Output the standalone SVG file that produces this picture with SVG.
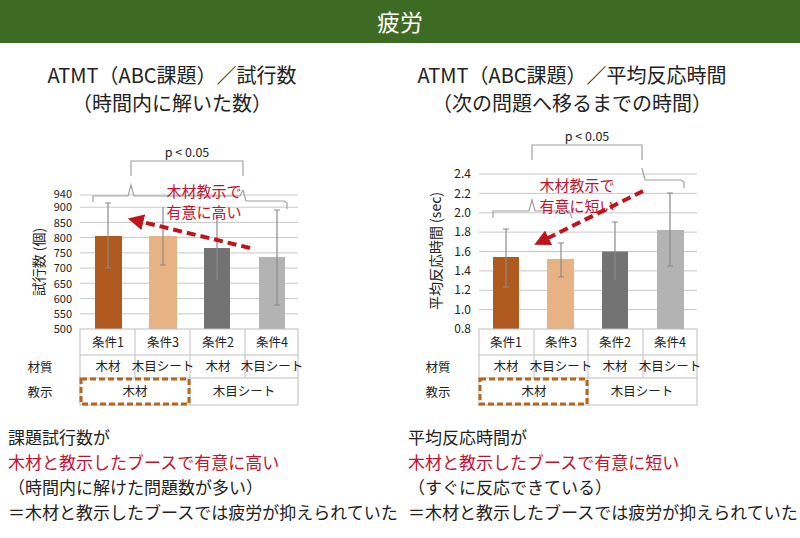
<svg xmlns="http://www.w3.org/2000/svg" width="800" height="538" viewBox="0 0 800 538">
<style>
text{font-family:"Noto Sans CJK JP","Noto Sans",sans-serif;fill:#222}
.t{font-size:20px;text-anchor:middle}
.tk{font-size:11px;text-anchor:end}
.c{font-size:12.5px;text-anchor:middle}
.b{font-size:17px}
.r{fill:#c8102e}
.g{stroke:#c8c8c8;stroke-width:1}
.tb{stroke:#bdbdbd;fill:none;stroke-width:1}
.e{stroke:#8a8a8a;stroke-width:1.2;fill:none}
.br{stroke:#a0a0a0;stroke-width:1.2;fill:none}
.dash{stroke:#b5651d;stroke-width:3;stroke-dasharray:6 3;fill:none}
.ar{stroke:#c0141c;stroke-width:4;stroke-dasharray:9 5;fill:none}
</style>
<defs><marker id="ah" viewBox="0 0 10 10" refX="6" refY="5" markerWidth="4" markerHeight="4" orient="auto"><path d="M0,0L10,5L0,10z" fill="#c0141c"/></marker></defs>
<rect x="0" y="0" width="800" height="43" fill="#3e6b23"/>
<text x="400" y="31" style="font-size:23px;fill:#fff;text-anchor:middle">疲労</text>
<text class="t" x="172" y="83">ATMT（ABC課題）／試行数</text>
<text class="t" x="172" y="111">（時間内に解いた数）</text>
<text class="t" x="572" y="83">ATMT（ABC課題）／平均反応時間</text>
<text class="t" x="572" y="111">（次の問題へ移るまでの時間）</text>

<g id="chart-left">
<g class="g"><line x1="80" y1="195" x2="298" y2="195"/><line x1="80" y1="207.2" x2="298" y2="207.2"/><line x1="80" y1="222.4" x2="298" y2="222.4"/><line x1="80" y1="237.6" x2="298" y2="237.6"/><line x1="80" y1="252.9" x2="298" y2="252.9"/><line x1="80" y1="268.1" x2="298" y2="268.1"/><line x1="80" y1="283.3" x2="298" y2="283.3"/><line x1="80" y1="298.6" x2="298" y2="298.6"/><line x1="80" y1="313.8" x2="298" y2="313.8"/></g>
<g class="tk"><text x="72" y="197.5">940</text><text x="72" y="211">900</text><text x="72" y="226.5">850</text><text x="72" y="241.5">800</text><text x="72" y="257">750</text><text x="72" y="272">700</text><text x="72" y="287.5">650</text><text x="72" y="302.5">600</text><text x="72" y="318">550</text><text x="72" y="333">500</text></g>
<text transform="translate(44,262) rotate(-90)" style="font-size:14px;text-anchor:middle">試行数 (個)</text>
<rect x="95" y="236" width="27" height="93" fill="#b05a20"/>
<rect x="149" y="236" width="28" height="93" fill="#e8b384"/>
<rect x="204" y="248" width="26" height="81" fill="#737373"/>
<rect x="259" y="257" width="26" height="72" fill="#b3b3b3"/>
<path class="e" d="M108,203V268M105,203h6M105,268h6M163,207V265M160,265h6M217,215V280M277,210V305M274,210h6M274,305h6"/>
<g class="tb"><rect x="80" y="329" width="218" height="76"/><line x1="80" y1="355" x2="298" y2="355"/><line x1="80" y1="378" x2="298" y2="378"/><line x1="135" y1="329" x2="135" y2="378"/><line x1="190" y1="329" x2="190" y2="405"/><line x1="245" y1="329" x2="245" y2="378"/></g>
<g class="c"><text x="108" y="347">条件1</text><text x="163" y="347">条件3</text><text x="218" y="347">条件2</text><text x="272" y="347">条件4</text><text x="108" y="371">木材</text><text x="163" y="371">木目シート</text><text x="218" y="371">木材</text><text x="272" y="371">木目シート</text><text x="135" y="396">木材</text><text x="244" y="396">木目シート</text></g>
<text x="40" y="372" style="font-size:12.5px;text-anchor:middle">材質</text>
<text x="40" y="397" style="font-size:12.5px;text-anchor:middle">教示</text>
<rect class="dash" x="81" y="379" width="108" height="25"/>
<path class="br" d="M131,176V161H243V176"/>
<text x="187" y="157" class="c">p &lt; 0.05</text>
<path class="br" d="M93,202V196H128L131,185L134,196H240L243,190"/>
<path class="br" d="M243,190L246,201H284L287,203V209"/>
<text class="r" x="204" y="197" style="font-size:15px;text-anchor:middle">木材教示で</text>
<text class="r" x="204" y="218" style="font-size:15px;text-anchor:middle">有意に高い</text>
<line class="ar" x1="250" y1="248" x2="134" y2="220" marker-end="url(#ah)"/>
</g>

<g id="chart-right">
<g class="g"><line x1="479" y1="174" x2="697" y2="174"/><line x1="479" y1="193.4" x2="697" y2="193.4"/><line x1="479" y1="212.8" x2="697" y2="212.8"/><line x1="479" y1="232.1" x2="697" y2="232.1"/><line x1="479" y1="251.5" x2="697" y2="251.5"/><line x1="479" y1="270.9" x2="697" y2="270.9"/><line x1="479" y1="290.3" x2="697" y2="290.3"/><line x1="479" y1="309.6" x2="697" y2="309.6"/></g>
<g class="tk" style="font-size:12px"><text x="471" y="178">2.4</text><text x="471" y="198">2.2</text><text x="471" y="217">2.0</text><text x="471" y="236">1.8</text><text x="471" y="256">1.6</text><text x="471" y="275">1.4</text><text x="471" y="294">1.2</text><text x="471" y="314">1.0</text><text x="471" y="333">0.8</text></g>
<text transform="translate(441,251) rotate(-90)" style="font-size:14px;text-anchor:middle">平均反応時間 (sec)</text>
<rect x="493" y="257" width="26" height="72" fill="#b05a20"/>
<rect x="547" y="259" width="27" height="70" fill="#e8b384"/>
<rect x="602" y="251.5" width="26" height="77.5" fill="#737373"/>
<rect x="657" y="230" width="27" height="99" fill="#b3b3b3"/>
<path class="e" d="M506,229V287M503,229h6M503,287h6M561,243V277M558,243h6M558,277h6M615,222V280M612,222h6M670,193V266M667,193h6M667,266h6"/>
<g class="tb"><rect x="479" y="329" width="218" height="76"/><line x1="479" y1="355" x2="697" y2="355"/><line x1="479" y1="378" x2="697" y2="378"/><line x1="534" y1="329" x2="534" y2="378"/><line x1="588" y1="329" x2="588" y2="405"/><line x1="643" y1="329" x2="643" y2="378"/></g>
<g class="c"><text x="506" y="347">条件1</text><text x="561" y="347">条件3</text><text x="615" y="347">条件2</text><text x="670" y="347">条件4</text><text x="506" y="371">木材</text><text x="561" y="371">木目シート</text><text x="615" y="371">木材</text><text x="670" y="371">木目シート</text><text x="534" y="396">木材</text><text x="642" y="396">木目シート</text></g>
<text x="438" y="372" style="font-size:12.5px;text-anchor:middle">材質</text>
<text x="438" y="397" style="font-size:12.5px;text-anchor:middle">教示</text>
<rect class="dash" x="480" y="379" width="107" height="25"/>
<path class="br" d="M532,160V145H642V160"/>
<text x="587" y="141" class="c">p &lt; 0.05</text>
<path class="br" d="M493,218V211H529L532,200L535,211H569L572,218"/>
<path class="br" d="M642,168L645,180H681L684,182V188"/>
<text class="r" x="577" y="191" style="font-size:15px;text-anchor:middle">木材教示で</text>
<text class="r" x="577" y="212" style="font-size:15px;text-anchor:middle">有意に短い</text>
<line class="ar" x1="643" y1="191" x2="540" y2="242" marker-end="url(#ah)"/>
</g>

<g class="b">
<text x="8" y="444" class="b">課題試行数が</text>
<text x="8" y="469" class="b r">木材と教示したブースで有意に高い</text>
<text x="8" y="494" class="b">（時間内に解けた問題数が多い）</text>
<text x="8" y="519" class="b">＝木材と教示したブースでは疲労が抑えられていた</text>
<text x="408" y="444" class="b">平均反応時間が</text>
<text x="408" y="469" class="b r">木材と教示したブースで有意に短い</text>
<text x="408" y="494" class="b">（すぐに反応できている）</text>
<text x="408" y="519" class="b">＝木材と教示したブースでは疲労が抑えられていた</text>
</g>
</svg>
